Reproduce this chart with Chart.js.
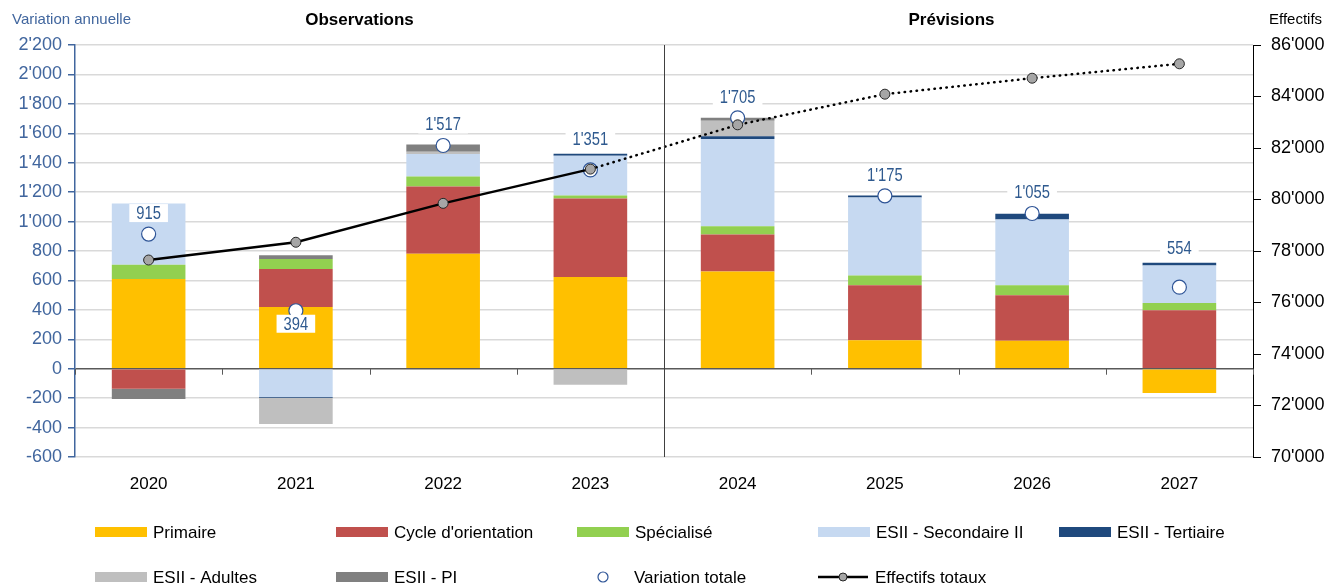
<!DOCTYPE html>
<html>
<head>
<meta charset="utf-8">
<script src="https://cdn.jsdelivr.net/npm/chart.js@4.4.1/dist/chart.umd.min.js"></script>
<style>
  html, body { margin: 0; padding: 0; background: #fff; }
  #wrap { width: 1340px; height: 586px; position: relative; }
</style>
</head>
<body>
<div id="wrap"><canvas id="chart"></canvas></div>
<script>
// --- data ---
const years = ['2020', '2021', '2022', '2023', '2024', '2025', '2026', '2027'];
const primaire     = [610, 420, 782, 624, 660, 193, 190, -165];
const cycleOrient  = [-136, 258, 456, 532, 252, 374, 309, 397];
const specialise   = [97, 68, 68, 21, 56, 66, 68, 50];
const secondaireII = [415, -193, 154, 270, 594, 530, 447, 255];
const tertiaire    = [0, -5, -5, 14, 18, 14, 40, 18];
const adultes      = [0, -178, 15, -109, 105, 0, 0, 0];
const esiiPI       = [-70, 25, 48, 0, 20, 0, 0, 0];
const variationTotale = [915, 394, 1517, 1351, 1705, 1175, 1055, 554];
const effectifsTotaux = [77650, 78340, 79850, 81180, 82900, 84090, 84710, 85270];

const FONT = '"Liberation Sans", Arial, sans-serif';
const BLUE = '#41669e';
const LABEL_BLUE = '#2f5a8f';

const fmt = v => {
  const s = Math.abs(Math.round(v)).toString().replace(/\B(?=(\d{3})+(?!\d))/g, "'");
  return (v < 0 ? '-' : '') + s;
};

const bar = (label, data, color) => ({
  type: 'bar', label, data, backgroundColor: color, borderWidth: 0,
  yAxisID: 'y', stack: 'bars', order: 2,
  barPercentage: 0.5, categoryPercentage: 1
});

// label placement: above the circle, below it, or above the bar top
const labelPlacement = ['point', 'below', 'point', 'bar', 'point', 'point', 'point', 'bar'];

const extras = {
  id: 'extras',
  beforeDatasetsDraw(chart) {
    const { ctx, chartArea: a, scales: { y } } = chart;
    const y0 = y.getPixelForValue(0);
    ctx.save();
    ctx.strokeStyle = '#595959';
    ctx.lineWidth = 1;
    for (let i = 0; i <= years.length; i++) {
      const px = Math.round(a.left + i * (a.right - a.left) / years.length) + 0.5;
      ctx.beginPath(); ctx.moveTo(px, y0); ctx.lineTo(px, y0 + 6); ctx.stroke();
    }
    ctx.restore();
  },
  afterDatasetsDraw(chart) {
    const { ctx, chartArea: a, scales: { x, y } } = chart;
    // observations / forecasts separator
    const sep = Math.round((x.getPixelForValue(3) + x.getPixelForValue(4)) / 2) + 0.5;
    ctx.save();
    ctx.strokeStyle = '#404040';
    ctx.lineWidth = 1;
    ctx.beginPath(); ctx.moveTo(sep, a.top); ctx.lineTo(sep, a.bottom); ctx.stroke();

    // value labels of the total variation (slightly condensed, like the original)
    const vMeta = chart.getDatasetMeta(7);
    ctx.font = '18px ' + FONT;
    ctx.textAlign = 'center';
    ctx.textBaseline = 'middle';
    variationTotale.forEach((v, i) => {
      const pt = vMeta.data[i];
      let top = y.getPixelForValue(0);
      for (let d = 0; d < 7; d++) {
        const el = chart.getDatasetMeta(d).data[i];
        if (chart.data.datasets[d].data[i] > 0) top = Math.min(top, el.y);
      }
      let ly = pt.y - 21;
      if (labelPlacement[i] === 'below') ly = pt.y + 13;
      if (labelPlacement[i] === 'bar') ly = top - 15;
      const txt = fmt(v);
      const w = ctx.measureText(txt).width * 0.82 + 14;
      ctx.fillStyle = '#fff';
      ctx.fillRect(pt.x - w / 2, ly - 9, w, 18);
      ctx.save();
      ctx.translate(pt.x, ly + 1);
      ctx.scale(0.82, 1);
      ctx.fillStyle = LABEL_BLUE;
      ctx.fillText(txt, 0, 0);
      ctx.restore();
    });
    ctx.restore();
  },
  afterDraw(chart) {
    const { ctx, scales: { x } } = chart;
    ctx.save();
    ctx.textBaseline = 'middle';
    // header texts
    ctx.font = 'bold 17px ' + FONT;
    ctx.fillStyle = '#000';
    ctx.textAlign = 'center';
    ctx.fillText('Observations', (x.getPixelForValue(0) + x.getPixelForValue(3)) / 2 - 10, 20);
    ctx.fillText('Prévisions', (x.getPixelForValue(4) + x.getPixelForValue(7)) / 2 - 7, 20);
    ctx.font = '15px ' + FONT;
    ctx.textAlign = 'left';
    ctx.fillStyle = BLUE;
    ctx.fillText('Variation annuelle', 12, 20);
    ctx.fillStyle = '#000';
    ctx.fillText('Effectifs', 1269, 20);

    // legend, 5 columns x 2 rows
    ctx.font = '17px ' + FONT;
    chart.data.datasets.forEach((ds, i) => {
      const cx = 95 + (i % 5) * 241;
      const cy = 532 + Math.floor(i / 5) * 45;
      if (ds.type === 'bar') {
        ctx.fillStyle = ds.backgroundColor;
        ctx.fillRect(cx, cy - 5, 52, 10);
      } else if (ds.showLine === false) {
        ctx.beginPath(); ctx.arc(cx + 26, cy, 5, 0, Math.PI * 2);
        ctx.fillStyle = '#fff'; ctx.fill();
        ctx.strokeStyle = ds.borderColor; ctx.lineWidth = 1.2; ctx.stroke();
      } else {
        ctx.strokeStyle = '#000'; ctx.lineWidth = 2.5;
        ctx.beginPath(); ctx.moveTo(cx, cy); ctx.lineTo(cx + 50, cy); ctx.stroke();
        ctx.beginPath(); ctx.arc(cx + 25, cy, 4, 0, Math.PI * 2);
        ctx.fillStyle = ds.pointBackgroundColor; ctx.fill();
        ctx.strokeStyle = ds.pointBorderColor; ctx.lineWidth = 1; ctx.stroke();
      }
      ctx.fillStyle = '#000';
      ctx.fillText(ds.label, cx + (ds.type === 'bar' ? 58 : 57), cy + 1);
    });
    ctx.restore();
  }
};

new Chart(document.getElementById('chart'), {
  data: {
    labels: years,
    datasets: [
      bar('Primaire', primaire, '#ffc000'),
      bar("Cycle d'orientation", cycleOrient, '#c0504d'),
      bar('Spécialisé', specialise, '#92d050'),
      bar('ESII - Secondaire II', secondaireII, '#c6d9f1'),
      bar('ESII - Tertiaire', tertiaire, '#1f497d'),
      bar('ESII - Adultes', adultes, '#bfbfbf'),
      bar('ESII - PI', esiiPI, '#808080'),
      {
        type: 'line', label: 'Variation totale', data: variationTotale,
        yAxisID: 'y', stack: 'vt', order: 1, showLine: false,
        pointRadius: 7, pointBackgroundColor: '#fff', borderColor: '#2f5597',
        pointBorderColor: '#2f5597', pointBorderWidth: 1.2
      },
      {
        type: 'line', label: 'Effectifs totaux', data: effectifsTotaux,
        yAxisID: 'y2', order: 0, borderColor: '#000', borderWidth: 2.5,
        borderCapStyle: 'round', tension: 0,
        pointRadius: 5, pointBackgroundColor: '#a6a6a6', pointBorderColor: '#262626',
        pointBorderWidth: 1,
        segment: { borderDash: c => c.p0DataIndex >= 3 ? [0.5, 5.5] : undefined }
      }
    ]
  },
  options: {
    responsive: true, maintainAspectRatio: false, animation: false,
    layout: { padding: { top: 45, left: 0, right: 0, bottom: 0 } },
    plugins: { legend: { display: false }, tooltip: { enabled: false } },
    scales: {
      x: {
        stacked: true,
        grid: { display: false, drawTicks: false },
        border: { display: false },
        ticks: { color: '#000', font: { family: FONT, size: 17 }, padding: 17 },
        afterFit: s => { s.height = 129; }
      },
      y: {
        stacked: true, position: 'left', min: -600, max: 2200,
        ticks: { stepSize: 200, color: BLUE, font: { family: FONT, size: 18 }, padding: 6, callback: v => fmt(v) },
        grid: {
          color: c => c.tick && c.tick.value === 0 ? '#595959' : '#d9d9d9',
          lineWidth: 1.5,
          tickColor: BLUE, tickLength: 7
        },
        border: { color: BLUE, width: 1.5 },
        afterFit: s => { s.width = 75; }
      },
      y2: {
        position: 'right', min: 70000, max: 86000,
        ticks: { stepSize: 2000, color: '#000', font: { family: FONT, size: 18 }, padding: 10, callback: v => fmt(v) },
        grid: { drawOnChartArea: false, tickColor: '#000', tickLength: 8 },
        border: { color: '#000', width: 1 },
        afterFit: s => { s.width = 87; }
      }
    }
  },
  plugins: [extras]
});
</script>
</body>
</html>
